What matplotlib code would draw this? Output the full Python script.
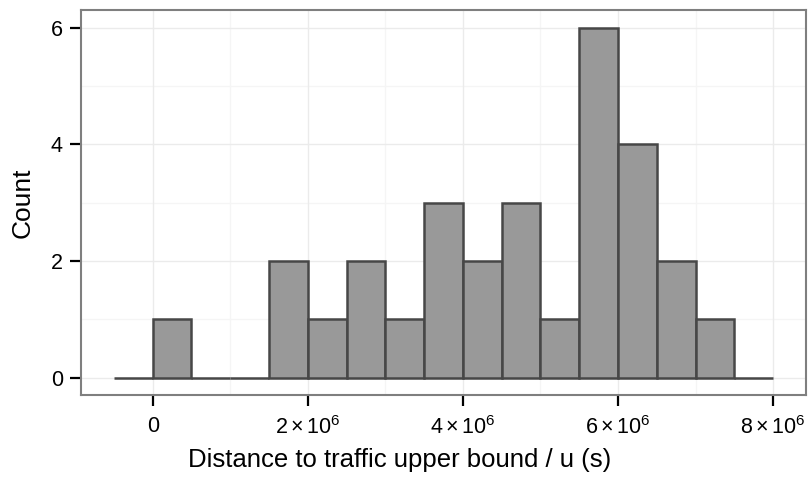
import numpy as np
import matplotlib as mpl
mpl.use('Agg')
import matplotlib.pyplot as plt
from matplotlib.ticker import FixedLocator, FuncFormatter

plt.rcParams['font.family'] = ['Liberation Sans', 'DejaVu Sans']
plt.rcParams['mathtext.fontset'] = 'custom'
plt.rcParams['mathtext.rm'] = 'Liberation Sans'
plt.rcParams['mathtext.it'] = 'Liberation Sans'

# histogram bins (left edge, width 0.5e6) and counts
bin_left = [-0.5e6, 0.0, 0.5e6, 1.0e6, 1.5e6, 2.0e6, 2.5e6, 3.0e6, 3.5e6,
            4.0e6, 4.5e6, 5.0e6, 5.5e6, 6.0e6, 6.5e6, 7.0e6, 7.5e6]
counts = [0, 1, 0, 0, 2, 1, 2, 1, 3, 2, 3, 1, 6, 4, 2, 1, 0]
bin_width = 0.5e6

x_ticks = [0, 2e6, 4e6, 6e6, 8e6]
x_minor = [1e6, 3e6, 5e6, 7e6]
y_ticks = [0, 2, 4, 6]
y_minor = [1, 3, 5]

fig = plt.figure(figsize=(8.09, 4.79), dpi=100)
ax = fig.add_axes([81/809, 1 - 395/479, 725/809, 385/479])

ax.bar(bin_left, counts, width=bin_width, align='edge', color='#999999',
       edgecolor='#474747', linewidth=1.8, zorder=3)

ax.set_xlim(-0.925e6, 8.425e6)
ax.set_ylim(-0.3, 6.3)

# grid lines like theme_bw
for v in x_minor:
    ax.axvline(v, color='#f5f5f5', lw=1.0, zorder=1)
for v in y_minor:
    ax.axhline(v, color='#f5f5f5', lw=1.0, zorder=1)
for v in x_ticks:
    ax.axvline(v, color='#ebebeb', lw=1.0, zorder=1)
for v in y_ticks:
    ax.axhline(v, color='#ebebeb', lw=1.0, zorder=1)

def sci(v, pos):
    if v == 0:
        return '0'
    return r'$%d\times10^{6}$' % round(v / 1e6)

ax.xaxis.set_major_locator(FixedLocator(x_ticks))
ax.xaxis.set_major_formatter(FuncFormatter(sci))
ax.yaxis.set_major_locator(FixedLocator(y_ticks))
ax.tick_params(axis='both', length=8, width=1.6, color='black',
               labelsize=15.5, labelcolor='black')
ax.tick_params(axis='x', pad=7)
ax.tick_params(axis='y', pad=5)

for s in ax.spines.values():
    s.set_color('#7f7f7f')
    s.set_linewidth(1.5)

ax.set_xlabel('Distance to traffic upper bound / u (s)', fontsize=18.5, labelpad=7)
ax.xaxis.label.set_x(0.44)
ax.set_ylabel('Count', fontsize=19, labelpad=12)

fig.savefig('out.png', dpi=100)
